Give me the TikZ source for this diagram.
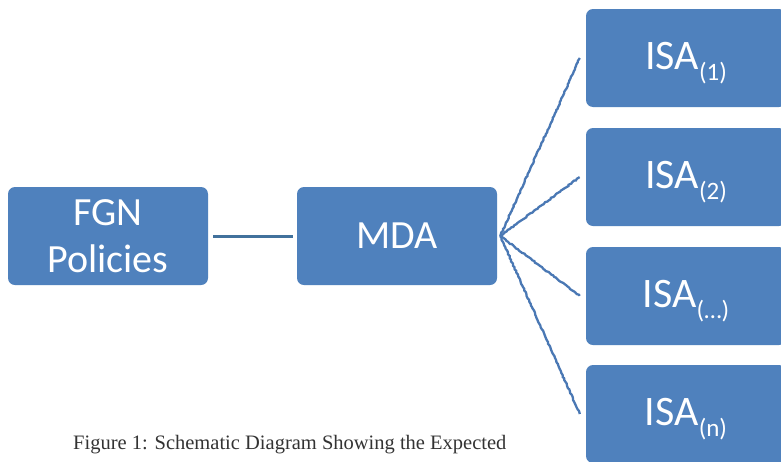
\documentclass[tikz,border=0pt]{standalone}
\usepackage{fontspec}
\setmainfont{Carlito}
\newfontfamily\capfont{Liberation Serif}
\usetikzlibrary{decorations.pathmorphing}
\definecolor{boxblue}{HTML}{4F81BD}
\definecolor{lineblue}{HTML}{41719C}
\definecolor{fanblue}{HTML}{4A78B4}
\tikzset{
  x=1pt, y=-1pt,
  bluebox/.style={rectangle, rounded corners=7pt, fill=boxblue, text=white,
    minimum width=200pt, minimum height=98pt, inner sep=0pt, align=center,
    font=\fontsize{40}{47}\selectfont},
  isabox/.style={bluebox, font=\fontsize{42}{47}\selectfont},
  link/.style={draw=lineblue, line width=3pt},
  fan/.style={draw=fanblue, line width=2.3pt,
    decorate, decoration={random steps, segment length=2pt, amplitude=0.55pt}},
}
\newcommand{\isalab}[1]{ISA\raisebox{-11pt}[0pt][5pt]{\fontsize{25}{25}\selectfont(#1)}}
\begin{document}
\begin{tikzpicture}
\useasboundingbox (0,0) rectangle (781,461);
\fill[white] (0,0) rectangle (781,461);
\node[bluebox] (fgn) at (108,236) {FGN\\Policies};
\node[bluebox] (mda) at (397,236) {MDA};
\node[isabox] (isa1) at (686,58) {\isalab{1}};
\node[isabox] (isa2) at (686,177) {\isalab{2}};
\node[isabox] (isa3) at (686,296) {\isalab{…}};
\node[isabox] (isan) at (686,414) {\isalab{n}};
\draw[link, shorten <=5pt, shorten >=4pt] (fgn.east) -- (mda.west);
\coordinate (hub) at ([xshift=3pt]mda.east);
\foreach \t in {isa1,isa2,isa3,isan}{
  \draw[fan] (hub) -- ([xshift=-6pt]\t.west);
}
\node[anchor=base west, inner sep=0pt, text=black!80, font=\capfont\fontsize{20.5}{22}\selectfont] (cap) at (73,449) {Figure 1: Schematic Diagram Showing the Expected};
\end{tikzpicture}
\end{document}
